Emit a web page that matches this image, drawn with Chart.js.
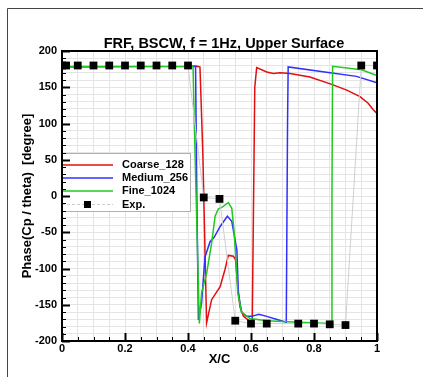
<!DOCTYPE html>
<html>
<head>
<meta charset="utf-8">
<script src="https://cdn.jsdelivr.net/npm/chart.js@4.4.0/dist/chart.umd.min.js"></script>
<style>
  body { margin: 0; background: #fff; }
  #chart { display: block; }
</style>
</head>
<body>
<canvas id="chart" width="423" height="377"></canvas>
<script>
const chartTitle = 'FRF, BSCW, f = 1Hz, Upper Surface';
const seriesNames = ['Coarse_128', 'Medium_256', 'Fine_1024', 'Exp.'];

const coarseX = [0, 0.43, 0.438, 0.447, 0.459, 0.475, 0.502, 0.517, 0.528, 0.544, 0.551, 0.558, 0.565, 0.576, 0.597, 0.604, 0.612, 0.618, 0.65, 0.671, 0.692, 0.724, 0.787, 0.856, 0.904, 0.946, 0.972, 0.988, 1.0];
const coarseY = [178, 179, 178, 60, -175, -143, -125, -102, -82, -83, -88, -125, -153, -166, -173, -173, 150, 177, 171, 169, 170, 169, 164, 154, 146, 137, 128, 119, 114];

const mediumX = [0, 0.424, 0.428, 0.433, 0.443, 0.454, 0.47, 0.483, 0.502, 0.525, 0.539, 0.555, 0.56, 0.57, 0.585, 0.602, 0.625, 0.65, 0.68, 0.712, 0.716, 0.718, 0.851, 0.935, 1.0];
const mediumY = [179, 179, 0, -171, -148, -84, -63, -57, -42, -28, -35, -74, -134, -160, -166, -166, -163, -166, -170, -174, 100, 178, 170, 165, 156];

const fineX = [0, 0.416, 0.42, 0.436, 0.443, 0.459, 0.475, 0.486, 0.496, 0.51, 0.528, 0.539, 0.546, 0.552, 0.558, 0.57, 0.597, 0.65, 0.75, 0.855, 0.857, 0.859, 0.951, 1.0];
const fineY = [179, 179, 100, -176, -134, -107, -65, -28, -18, -15, -9, -17, -47, -88, -134, -160, -169, -172, -174, -176, 0, 179, 174, 166];

const expX = [0, 0.013, 0.05, 0.1, 0.15, 0.2, 0.25, 0.3, 0.35, 0.4, 0.45, 0.5, 0.55, 0.6, 0.65, 0.75, 0.8, 0.85, 0.9, 0.95, 1.0];
const expY = [180, 180, 180, 180, 180, 180, 180, 180, 180, 180, -2, -4, -172, -176, -176, -176, -176, -177, -178, 180, 180];

const xTicks = [0, 0.2, 0.4, 0.6, 0.8, 1];
const yTicks = [-200, -150, -100, -50, 0, 50, 100, 150, 200];

function pts(xs, ys) {
  return xs.map((x, i) => ({ x: x, y: ys[i] }));
}
function isMajor(v, list) {
  return list.some(t => Math.abs(t - v) < 1e-6);
}

const colors = ['#e01010', '#3030ff', '#20c820', '#000000'];
const fontFamily = '"Liberation Sans", Arial, sans-serif';

const frame = {
  id: 'frame',
  beforeDraw(chart) {
    const ctx = chart.ctx;
    ctx.save();
    ctx.strokeStyle = '#444';
    ctx.lineWidth = 1;
    ctx.beginPath();
    ctx.moveTo(7.5, 377);
    ctx.lineTo(7.5, 8.5);
    ctx.lineTo(423, 8.5);
    ctx.stroke();
    // title, centred a little right of the plot centre like the original
    ctx.fillStyle = '#000';
    ctx.font = 'bold 14.5px ' + fontFamily;
    ctx.textAlign = 'center';
    ctx.textBaseline = 'middle';
    ctx.fillText(chartTitle, 224, 44);
    ctx.restore();
  },
  afterDatasetsDraw(chart) {
    const ctx = chart.ctx;
    const a = chart.chartArea;
    // legend
    ctx.save();
    ctx.fillStyle = '#fff';
    ctx.fillRect(a.left, 153, 129, 58);
    ctx.strokeStyle = '#b0b0b0';
    ctx.lineWidth = 1;
    ctx.strokeRect(a.left + 0.5, 153.5, 128, 58);
    ctx.font = 'bold 11px ' + fontFamily;
    ctx.textBaseline = 'middle';
    ctx.textAlign = 'left';
    const rowY = [165, 178, 191, 204.5];
    chart.data.datasets.forEach((ds, i) => {
      const y = rowY[i];
      if (i < 3) {
        ctx.strokeStyle = ds.borderColor;
        ctx.lineWidth = 1.5;
        ctx.beginPath();
        ctx.moveTo(a.left, y);
        ctx.lineTo(113, y);
        ctx.stroke();
      } else {
        ctx.strokeStyle = '#cccccc';
        ctx.lineWidth = 1;
        ctx.setLineDash([3, 2]);
        ctx.beginPath();
        ctx.moveTo(a.left, y);
        ctx.lineTo(113, y);
        ctx.stroke();
        ctx.setLineDash([]);
        ctx.fillStyle = '#000';
        ctx.fillRect(84, y - 3.5, 7, 7);
      }
      ctx.fillStyle = '#000';
      ctx.fillText(ds.label, 122, y);
    });
    ctx.restore();
  },
  afterDraw(chart) {
    const ctx = chart.ctx;
    const a = chart.chartArea;
    const xs = chart.scales.x, ys = chart.scales.y;
    ctx.save();
    ctx.strokeStyle = '#000';
    xs.ticks.forEach(t => {
      const major = isMajor(t.value, xTicks);
      const px = Math.round(xs.getPixelForValue(t.value)) + 0.5;
      ctx.lineWidth = major ? 2 : 1;
      ctx.beginPath();
      ctx.moveTo(px, a.bottom);
      ctx.lineTo(px, a.bottom - (major ? 8 : 4));
      ctx.stroke();
    });
    ys.ticks.forEach(t => {
      const major = isMajor(t.value, yTicks);
      const py = Math.round(ys.getPixelForValue(t.value)) + 0.5;
      ctx.lineWidth = major ? 2 : 1;
      ctx.beginPath();
      ctx.moveTo(a.left, py);
      ctx.lineTo(a.left + (major ? 8 : 4), py);
      ctx.stroke();
    });
    ctx.lineWidth = 2;
    ctx.strokeRect(a.left, a.top, a.right - a.left, a.bottom - a.top);
    ctx.restore();
  }
};

const tickFont = { family: fontFamily, size: 11, weight: 'bold' };
const titleFont = { family: fontFamily, size: 13, weight: 'bold' };

new Chart(document.getElementById('chart'), {
  type: 'scatter',
  data: {
    datasets: [
      { label: seriesNames[0], data: pts(coarseX, coarseY), borderColor: colors[0], showLine: true, borderWidth: 1.5, pointRadius: 0, order: 4 },
      { label: seriesNames[1], data: pts(mediumX, mediumY), borderColor: colors[1], showLine: true, borderWidth: 1.5, pointRadius: 0, order: 3 },
      { label: seriesNames[2], data: pts(fineX, fineY), borderColor: colors[2], showLine: true, borderWidth: 1.5, pointRadius: 0, order: 2 },
      { label: seriesNames[3], data: pts(expX, expY), borderColor: '#cfcfcf', borderWidth: 1, showLine: true,
        pointStyle: 'rect', pointRadius: 5.5, pointBackgroundColor: '#000', pointBorderColor: '#000', pointBorderWidth: 0, order: 1 }
    ]
  },
  options: {
    responsive: false,
    devicePixelRatio: 1,
    animation: false,
    layout: { padding: { left: 0, right: 46, top: 51, bottom: 0 } },
    plugins: {
      legend: { display: false },
      tooltip: { enabled: false },
      title: { display: false }
    },
    scales: {
      x: {
        type: 'linear',
        min: 0, max: 1,
        afterFit(s) { s.height = 36; },
        border: { display: false },
        grid: { color: '#e4e4e4', lineWidth: 1, drawTicks: false },
        ticks: {
          stepSize: 0.05, autoSkip: false, maxRotation: 0, padding: 1,
          color: '#000', font: tickFont,
          callback: v => isMajor(v, xTicks) ? String(Math.round(v * 10) / 10) : ''
        },
        title: { display: true, text: 'X/C', color: '#000', font: titleFont, padding: { top: 0, bottom: 10 } }
      },
      y: {
        min: -200, max: 200,
        afterFit(s) { s.width = 62; },
        border: { display: false },
        grid: { color: '#e4e4e4', lineWidth: 1, drawTicks: false },
        ticks: {
          stepSize: 10, autoSkip: false, padding: 5,
          color: '#000', font: tickFont,
          callback: v => isMajor(v, yTicks) ? String(v) : ''
        },
        title: { display: true, text: 'Phase(Cp / theta)  [degree]', color: '#000', font: titleFont, padding: { top: 20, bottom: 0 } }
      }
    }
  },
  plugins: [frame]
});
</script>
</body>
</html>
